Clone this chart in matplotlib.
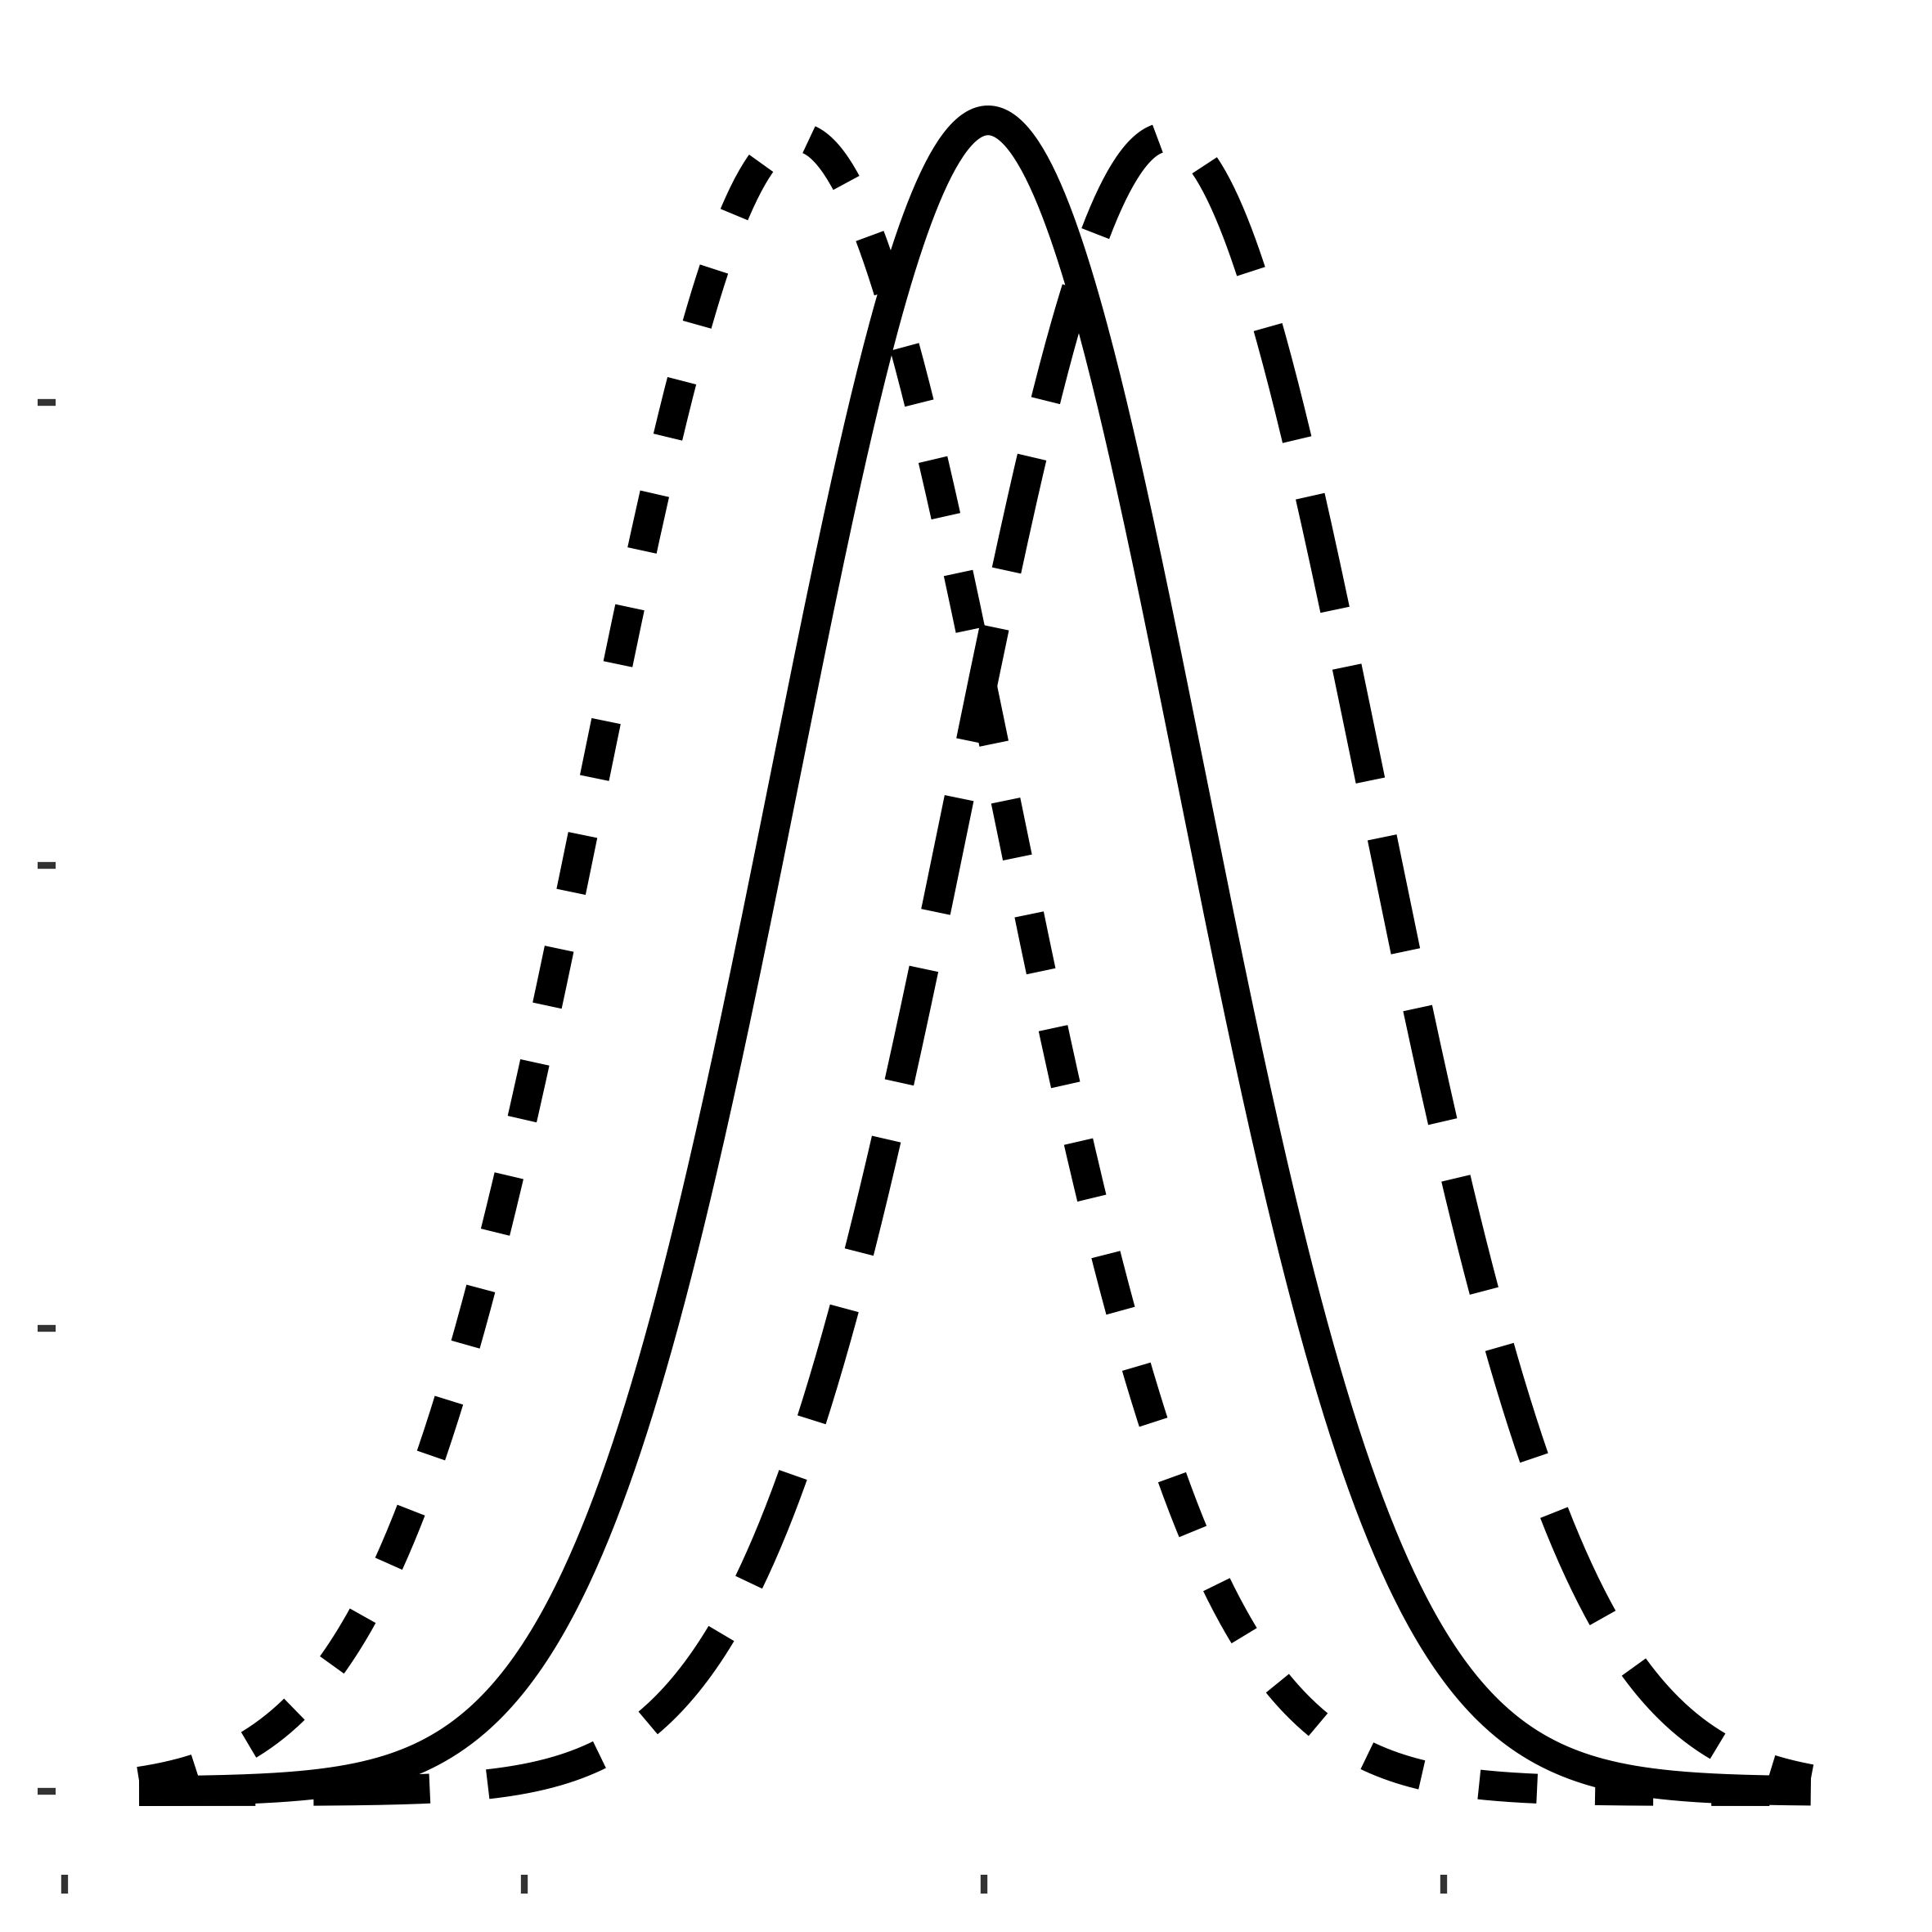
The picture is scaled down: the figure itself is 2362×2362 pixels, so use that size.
import matplotlib
matplotlib.use("Agg")
import matplotlib.pyplot as plt
import numpy as np

# x range the curves are drawn over
x_start, x_end = -1.837, 1.798

# one bell curve per entry: centre, spread, line style
centres = [0.009, -0.405, 0.397]
spreads = [0.442, 0.4465, 0.4465]
styles = ['-', (0, (1.96, 1.96)), (0, (3.92, 1.96))]

xticks = [-2, -1, 0, 1]
yticks = [0, 0.25, 0.5, 0.75]

x = np.linspace(x_start, x_end, 800)

W = 2362
fig = plt.figure(figsize=(W / 300, W / 300), dpi=300)
ax = fig.add_axes([68 / W, 70 / W, 2248 / W, 2247 / W])

for mu, sd, ls in zip(centres, spreads, styles):
    y = np.exp(-0.5 * ((x - mu) / sd) ** 2) / (sd * np.sqrt(2 * np.pi))
    ax.plot(x, y, color='k', lw=8.7, linestyle=ls,
            solid_capstyle='butt', dash_capstyle='butt')

ax.set_xticks(xticks)
ax.set_yticks(yticks)
ax.tick_params(length=5.4, width=2.0, color='#333333',
               labelleft=False, labelbottom=False)
for s in ax.spines.values():
    s.set_visible(False)

fig.savefig('out.png', dpi=300)
